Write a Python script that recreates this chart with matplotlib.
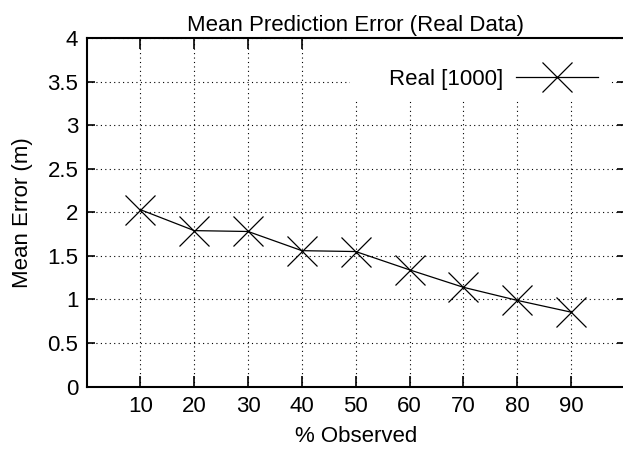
import numpy as np
import matplotlib.pyplot as plt
from matplotlib.patches import Rectangle

plt.rcParams['font.family'] = ['Liberation Sans', 'DejaVu Sans']

observed = [10, 20, 30, 40, 50, 60, 70, 80, 90]
mean_error = [2.03, 1.79, 1.78, 1.56, 1.55, 1.34, 1.14, 0.99, 0.855]
y_ticks = [0, 0.5, 1, 1.5, 2, 2.5, 3, 3.5, 4]
y_labels = ['0', '0.5', '1', '1.5', '2', '2.5', '3', '3.5', '4']

fig = plt.figure(figsize=(6.23, 4.5), dpi=100)
ax = fig.add_axes([0.139, 0.1407, 0.864, 0.775])
ax.set_axisbelow(True)

ax.plot(observed, mean_error, color='black', lw=0.9, marker='x',
        markersize=21, markeredgewidth=0.9, label='Real [1000]', zorder=3)

ax.set_xlim(0, 100)
ax.set_ylim(0, 4)
ax.set_xticks(observed)
ax.set_yticks(y_ticks)
ax.set_yticklabels(y_labels)
ax.grid(True, linestyle=(0, (1, 3)), color='black', lw=0.8)
ax.tick_params(direction='in', top=True, right=True, labelsize=16,
               width=1.2, color='black')
ax.tick_params(axis='x', length=8, pad=7)
ax.tick_params(axis='y', length=6, pad=6)
for s in ax.spines.values():
    s.set_linewidth(1.5)

# white key box hiding the grid, gnuplot style
ax.add_patch(Rectangle((0.49, 0.822), 0.485, 0.178, transform=ax.transAxes,
                       facecolor='white', edgecolor='none', zorder=1))

ax.set_title('Mean Prediction Error (Real Data)', fontsize=16, pad=5)
ax.set_xlabel('% Observed', fontsize=16, labelpad=6)
ax.set_ylabel('Mean Error (m)', fontsize=16, labelpad=10)

leg = ax.legend(loc='center right', bbox_to_anchor=(598 / 623, 1 - 79 / 450),
                bbox_transform=fig.transFigure, markerfirst=False,
                frameon=False, fontsize=16, handlelength=3.7,
                handletextpad=0.55, borderaxespad=0, borderpad=0)

fig.savefig('out.png', dpi=100)
